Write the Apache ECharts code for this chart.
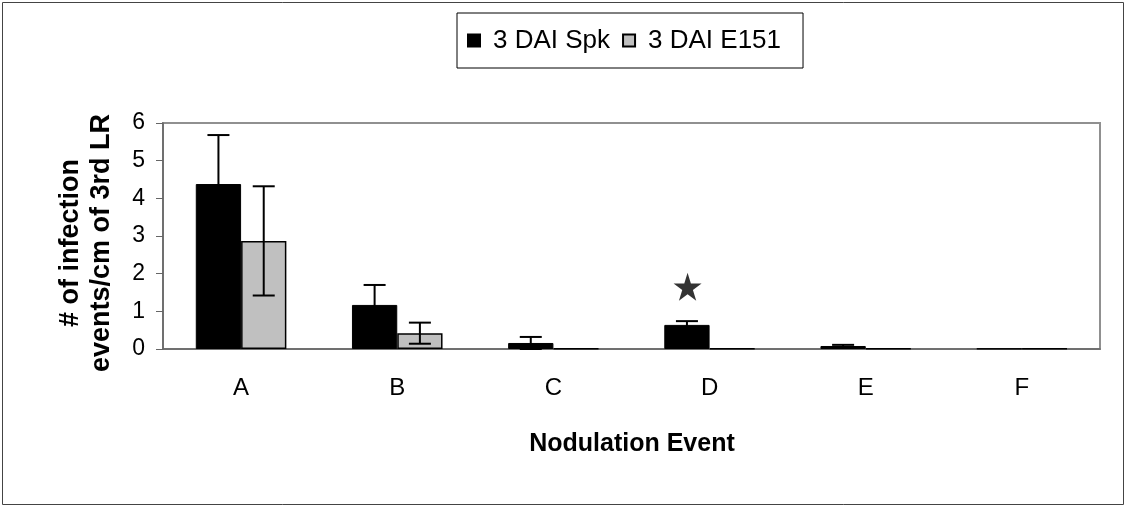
<!DOCTYPE html>
<html>
<head>
  <meta charset="utf-8">
  <script src="https://cdn.jsdelivr.net/npm/echarts@6/dist/echarts.min.js"></script>
  <style>body{margin:0;background:#fff;}</style>
</head>
<body>
<div id="main" style="width:1126px;height:508px;"></div>
<script type="text/javascript">
var categories = ['A', 'B', 'C', 'D', 'E', 'F'];
var spk = [4.38, 1.17, 0.16, 0.64, 0.08, 0.01];
var spkErr = [1.3, 0.53, 0.16, 0.1, 0.03, 0];
var e151 = [2.87, 0.42, 0.01, 0.01, 0.01, 0.01];
var e151Err = [1.45, 0.28, 0, 0, 0, 0];
var starIndex = 3;
var starValue = 1.65;
var yTicks = [0, 1, 2, 3, 4, 5, 6];

var catGap = 0.42;
var fontFam = '"Liberation Sans", Arial, sans-serif';

var errData = function (vals, errs) {
    var res = [];
    for (var i = 0; i < vals.length; i++) {
        if (errs[i] > 0) res.push([i, vals[i], errs[i]]);
    }
    return res;
};

// error bar drawn at the middle of one of the two bars (side -1 left, +1 right)
var makeErrRender = function (side) {
    return function (params, api) {
        var i = api.value(0), v = api.value(1), e = api.value(2);
        var band = api.size([1, 0])[0];
        var bw = band * (1 - catGap) / 2;
        var c = api.coord([i, v]);
        var x = c[0] + side * bw / 2;
        var top = api.coord([i, v + e])[1];
        var bot = api.coord([i, Math.max(v - e, 0)])[1];
        var cap = 11;
        var st = {stroke: '#000', lineWidth: 2};
        return {
            type: 'group',
            children: [
                {type: 'line', shape: {x1: x, y1: top, x2: x, y2: bot}, style: st},
                {type: 'line', shape: {x1: x - cap, y1: top, x2: x + cap, y2: top}, style: st},
                {type: 'line', shape: {x1: x - cap, y1: bot, x2: x + cap, y2: bot}, style: st}
            ]
        };
    };
};

var starPath = 'path://M50,0 L61.8,36.2 L100,36.2 L69.1,58.6 L80.9,95.1 L50,72.6 L19.1,95.1 L30.9,58.6 L0,36.2 L38.2,36.2 Z';

var chart = echarts.init(document.getElementById('main'));
chart.setOption({
    backgroundColor: '#fff',
    animation: false,
    textStyle: {fontFamily: fontFam},
    graphic: [
        {type: 'rect', shape: {x: 2.5, y: 2.5, width: 1121, height: 502},
         style: {fill: 'none', stroke: '#444', lineWidth: 1}},
        {type: 'text', x: 86, y: 243, rotation: Math.PI / 2,
         style: {text: '# of infection\nevents/cm of 3rd LR', font: 'bold 27px ' + fontFam,
                 fill: '#000', align: 'center', verticalAlign: 'middle', lineHeight: 31}},
        {type: 'text', x: 632, y: 444,
         style: {text: 'Nodulation Event', font: 'bold 25px ' + fontFam, fill: '#000',
                 align: 'center', verticalAlign: 'middle'}}
    ],
    legend: {
        left: 457, top: 13,
        padding: [13, 22, 13, 10],
        borderColor: '#000', borderWidth: 1,
        backgroundColor: '#fff',
        itemWidth: 12, itemHeight: 12, itemGap: 12,
        icon: 'rect',
        textStyle: {fontSize: 26, lineHeight: 29, color: '#000', fontFamily: fontFam, padding: [0, 0, 0, 8]},
        data: ['3 DAI Spk', '3 DAI E151']
    },
    grid: {left: 163, right: 26, top: 123, bottom: 159, show: true, borderColor: '#909090', borderWidth: 2},
    xAxis: {
        type: 'category', data: categories,
        axisLine: {lineStyle: {color: '#666', width: 1.5}},
        axisTick: {length: 7, lineStyle: {color: '#666'}},
        axisLabel: {fontSize: 24, color: '#000', margin: 27}
    },
    yAxis: {
        type: 'value', min: 0, max: 6, interval: 1,
        axisLine: {show: true, lineStyle: {color: '#666', width: 1.5}},
        axisTick: {show: true, inside: false, length: 7, lineStyle: {color: '#666'}},
        splitLine: {show: false},
        axisLabel: {fontSize: 23, color: '#000', margin: 18,
                    formatter: function (v) { return yTicks.indexOf(v) >= 0 ? String(v) : ''; }}
    },
    series: [
        {name: '3 DAI Spk', type: 'bar', data: spk, barGap: '0%', barCategoryGap: (catGap * 100) + '%',
         itemStyle: {color: '#000', borderColor: '#000', borderWidth: 1}},
        {name: '3 DAI E151', type: 'bar', data: e151,
         itemStyle: {color: '#c0c0c0', borderColor: '#000', borderWidth: 1.5}},
        {type: 'custom', renderItem: makeErrRender(-1), data: errData(spk, spkErr), z: 5},
        {type: 'custom', renderItem: makeErrRender(1), data: errData(e151, e151Err), z: 5},
        {type: 'scatter', symbol: starPath, symbolSize: 28, symbolOffset: [-22, 0],
         itemStyle: {color: '#000'},
         data: [[starIndex, starValue]]}
    ]
});
</script>
</body>
</html>
